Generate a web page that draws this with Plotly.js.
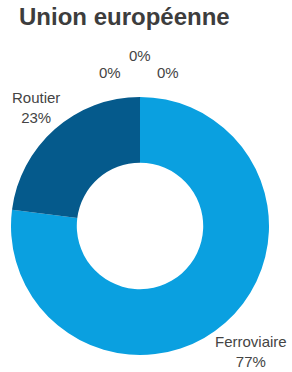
<!DOCTYPE html>
<html><head><meta charset="utf-8">
<script src="https://cdn.plot.ly/plotly-3.0.1.min.js"></script>
<style>html,body{margin:0;padding:0;background:#fff}#c{width:292px;height:372px}</style>
</head><body><div id="c"></div>
<script>
const labels = ["Ferroviaire", "Routier", "Maritime", "Aérien", "Fluvial"];
const values = [77, 23, 0, 0, 0];
const colors = ["#0AA0E0", "#055A8C", "#7FC8EE", "#3C3C3C", "#A0A0A0"];
const title = "Union européenne";

const W = 292, H = 372;
const cx = 140, cy = 226, r = 129;
const FONT = "Liberation Sans, Arial, sans-serif";
const fs = 15;

// label placement computed from the slice angles
const total = values.reduce((a, b) => a + b, 0);
const annotations = [];
let cum = 0, zeroIdx = 0;
values.forEach((v, i) => {
  const pct = Math.round(v / total * 100) + "%";
  const mid = (cum + v / 2) / total * 2 * Math.PI;
  cum += v;
  let px, py, txt;
  if (v > 0) {
    txt = labels[i] + "<br>" + pct;
    const halfW = labels[i].length * fs * 0.25;
    const halfH = fs * 0.75;
    const d = r + 3 + halfW * Math.abs(Math.sin(mid)) + halfH * Math.abs(Math.cos(mid));
    px = cx + d * Math.sin(mid);
    py = cy - d * Math.cos(mid);
  } else {
    // zero slices all sit at the top; spread them out like the reference
    txt = pct;
    const k = zeroIdx++;
    const dx = [-30, 0, 28][k % 3];
    const up = k === 1 ? 41 : 25;
    px = cx + dx;
    py = cy - r - up;
  }
  annotations.push({
    text: txt, xref: "paper", yref: "paper", x: px / W, y: 1 - py / H,
    xanchor: "center", yanchor: "middle", showarrow: false, align: "center",
    font: {family: FONT, size: fs, color: "#444"}
  });
});

Plotly.newPlot("c", [{
  type: "pie",
  labels: labels,
  values: values,
  hole: 0.49,
  sort: false,
  direction: "clockwise",
  rotation: 0,
  marker: {colors: colors, line: {width: 0}},
  textinfo: "none",
  showlegend: false,
  automargin: false,
  domain: {x: [(cx - r) / W, (cx + r) / W], y: [1 - (cy + r) / H, 1 - (cy - r) / H]},
  hoverinfo: "none"
}], {
  width: W, height: H,
  margin: {l: 0, r: 0, t: 0, b: 0},
  paper_bgcolor: "#fff",
  annotations: annotations,
  title: {text: "<b>" + title + "</b>", x: 19 / W, xanchor: "left", xref: "container",
          y: 1 - 17 / H, yanchor: "middle", yref: "container",
          font: {family: FONT, size: 24, color: "#3d3d3d"}}
}, {displayModeBar: false, staticPlot: true});
</script></body></html>
